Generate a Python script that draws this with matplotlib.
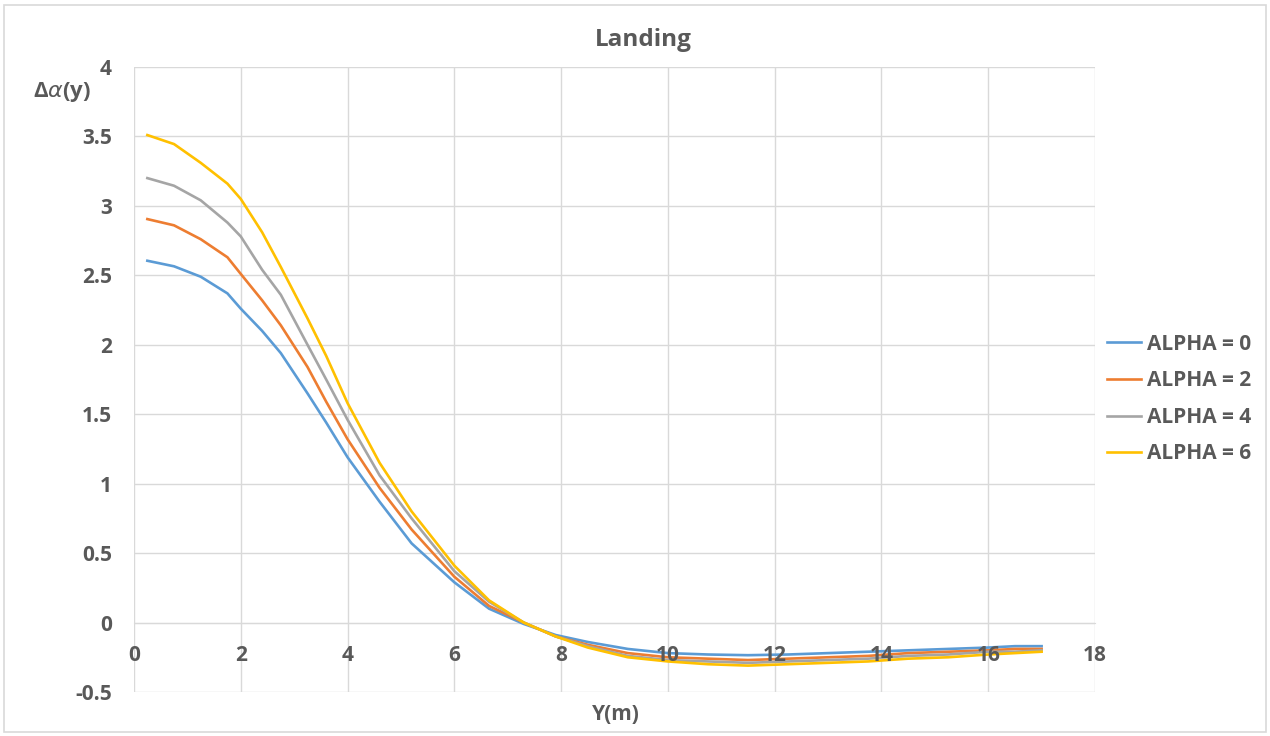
import matplotlib
matplotlib.use("Agg")
import matplotlib.pyplot as plt
from matplotlib.patches import Rectangle

plt.rcParams['font.family'] = ['Open Sans', 'DejaVu Sans']

y_pos = [0.25, 0.75, 1.25, 1.75, 2.0, 2.4, 2.75, 3.25, 3.6, 4.0, 4.6, 5.2, 6.0,
         6.65, 7.3, 7.9, 8.5, 9.25, 10, 10.75, 11.5, 12.25, 13, 13.75,
         14.5, 15.25, 16, 16.5, 17]

alpha0 = [2.605, 2.565, 2.49, 2.37, 2.26, 2.10, 1.94, 1.65, 1.44, 1.19, 0.87, 0.57,
          0.29, 0.10, -0.01, -0.09, -0.14, -0.19, -0.22, -0.23, -0.235, -0.23, -0.22,
          -0.21, -0.20, -0.19, -0.18, -0.17, -0.17]
alpha2 = [2.905, 2.86, 2.76, 2.63, 2.51, 2.32, 2.14, 1.84, 1.59, 1.32, 0.97, 0.67,
          0.33, 0.12, 0.00, -0.10, -0.16, -0.22, -0.25, -0.26, -0.27, -0.26, -0.25,
          -0.24, -0.22, -0.21, -0.20, -0.19, -0.19]
alpha4 = [3.20, 3.145, 3.04, 2.88, 2.78, 2.54, 2.36, 2.00, 1.75, 1.46, 1.06, 0.75,
          0.37, 0.15, 0.00, -0.10, -0.17, -0.24, -0.27, -0.28, -0.29, -0.28, -0.27,
          -0.26, -0.24, -0.23, -0.21, -0.21, -0.20]
alpha6 = [3.51, 3.445, 3.31, 3.16, 3.05, 2.81, 2.56, 2.19, 1.92, 1.58, 1.15, 0.80,
          0.41, 0.16, 0.00, -0.10, -0.18, -0.25, -0.28, -0.30, -0.31, -0.30, -0.29,
          -0.28, -0.26, -0.25, -0.23, -0.22, -0.21]

series = [alpha0, alpha2, alpha4, alpha6]
labels = ["ALPHA = 0", "ALPHA = 2", "ALPHA = 4", "ALPHA = 6"]
colors = ["#5B9BD5", "#ED7D31", "#A5A5A5", "#FFC000"]

x_ticks = [0, 2, 4, 6, 8, 10, 12, 14, 16, 18]
y_ticks = [-0.5, 0, 0.5, 1, 1.5, 2, 2.5, 3, 3.5, 4]
y_tick_labels = ["-0.5", "0", "0.5", "1", "1.5", "2", "2.5", "3", "3.5", "4"]

txt = "#595959"
grid = "#D9D9D9"
fs = 15

fig = plt.figure(figsize=(12.7, 7.36), dpi=100)
ax = fig.add_axes([134/1270, 44/736, (1095-134)/1270, (692-67)/736])

for vals, lab, col in zip(series, labels, colors):
    ax.plot(y_pos, vals, color=col, lw=1.9, label=lab, zorder=3,
            solid_joinstyle='round')

ax.set_xlim(0, 18)
ax.set_ylim(-0.5, 4)
ax.set_xticks(x_ticks)
ax.set_xticklabels([])
ax.set_yticks(y_ticks)
ax.set_yticklabels(y_tick_labels)
ax.grid(True, color=grid, lw=1.0, zorder=0)
ax.set_axisbelow(True)
for s in ['top', 'right', 'left']:
    ax.spines[s].set_visible(False)
ax.spines['bottom'].set_position(('data', 0))
ax.spines['bottom'].set_color(grid)
ax.tick_params(axis='both', length=0, labelsize=fs, labelcolor=txt)
ax.tick_params(axis='y', pad=16)
for t in ax.get_yticklabels():
    t.set_fontweight('bold')

# x tick labels drawn above the curves (as in the reference)
for xt in x_ticks:
    ax.annotate(str(xt), xy=(xt, 0), xytext=(0, -24), textcoords='offset points',
                ha='center', va='center', fontsize=fs, fontweight='bold',
                color=txt, zorder=5, annotation_clip=False)

fig.text(643/1270, 1 - 40/736, "Landing", ha='center', va='center', fontsize=17.5,
         fontweight='bold', color=txt)
fig.text(33/1270, 1 - 92/736, r"Δ$\alpha$(y)", ha='left', va='center', fontsize=16,
         fontweight='bold', color=txt)
fig.text(616/1270, 1 - 715/736, "Y(m)", ha='center', va='center', fontsize=fs,
         fontweight='bold', color=txt)

leg = fig.legend(loc='center left', bbox_to_anchor=(1107/1270, 1 - 399/736),
                 frameon=False, fontsize=fs, handlelength=1.65, handletextpad=0.25,
                 labelspacing=0.75, borderpad=0, borderaxespad=0)
for t in leg.get_texts():
    t.set_fontweight('bold')
    t.set_color(txt)

fig.patches.append(Rectangle((4/1270, 4/736), 1262/1270, 727/736, transform=fig.transFigure,
                             fill=False, edgecolor=grid, lw=1.2))

fig.savefig("out.png", dpi=100)
